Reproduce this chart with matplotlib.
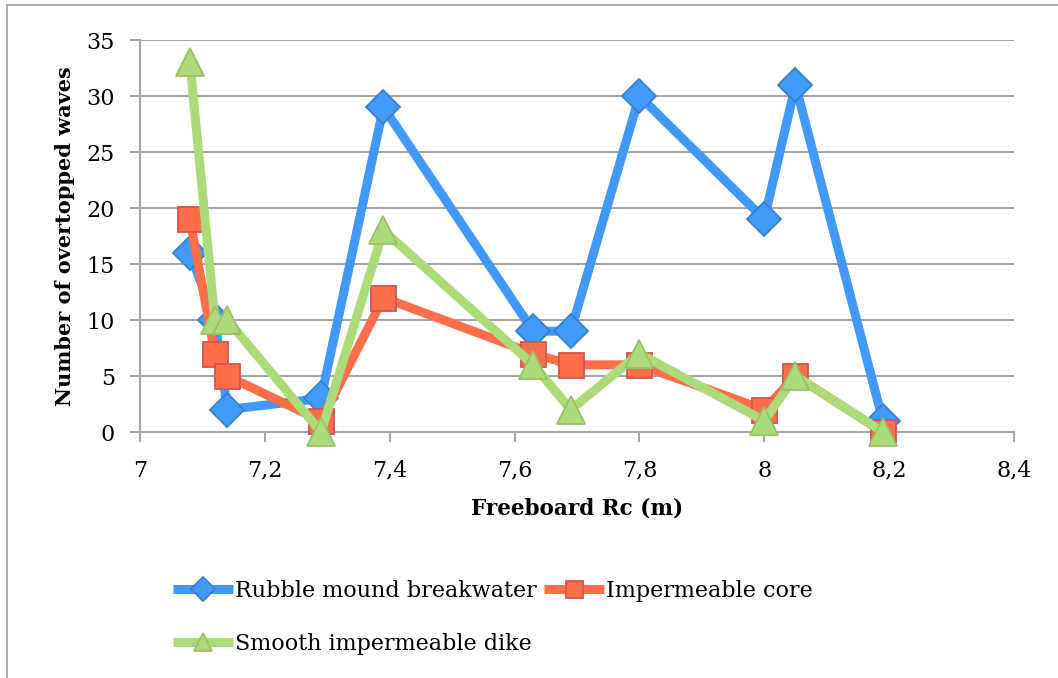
import matplotlib
matplotlib.use("Agg")
import matplotlib.pyplot as plt
from matplotlib.patches import Rectangle
from matplotlib.ticker import FuncFormatter, MultipleLocator

# Freeboard values (m) shared by all three structures
freeboard = [7.08, 7.12, 7.14, 7.29, 7.39, 7.63, 7.69, 7.80, 8.00, 8.05, 8.19]

# Number of overtopped waves per structure type
rubble_mound = [16, 10, 2, 3, 29, 9, 9, 30, 19, 31, 1]
impermeable_core = [19, 7, 5, 1, 12, 7, 6, 6, 2, 5, 0]
smooth_dike = [33, 10, 10, 0, 18, 6, 2, 7, 1, 5, 0]

series_labels = ["Rubble mound breakwater", "Impermeable core", "Smooth impermeable dike"]

plt.rcParams["font.family"] = ["DejaVu Serif"]

fig = plt.figure(figsize=(10.58, 6.78), dpi=100)
ax = fig.add_axes([0.1323, 0.3628, 0.8261, 0.5782])

# thin grey frame around the chart area
fig.patches.append(Rectangle((7 / 1058, -0.01), 1.02, 1 - 5 / 678 + 0.01,
                             transform=fig.transFigure, fill=False,
                             edgecolor="#A6A6A6", linewidth=1.3))

styles = [
    dict(color="#4199F9", marker="D", mfc="#4199F9", mec="#3A7FCC", ms=17.5),
    dict(color="#FD6E4B", marker="s", mfc="#FD6E4B", mec="#D9534A", ms=18),
    dict(color="#AEDB7A", marker="^", mfc="#AEDB7A", mec="#9CC066", ms=20),
]
lines = []
for vals, lab, st in zip([rubble_mound, impermeable_core, smooth_dike], series_labels, styles):
    ln, = ax.plot(freeboard, vals, color=st["color"], lw=6.5, marker=st["marker"],
                  markerfacecolor=st["mfc"], markeredgecolor=st["mec"], markeredgewidth=1.3,
                  markersize=st["ms"], label=lab, solid_joinstyle="miter",
                  solid_capstyle="butt", clip_on=False, zorder=3)
    lines.append(ln)

ax.set_xlim(7, 8.4)
ax.set_ylim(0, 35)
ax.xaxis.set_major_locator(MultipleLocator(0.2))
ax.yaxis.set_major_locator(MultipleLocator(5))
ax.xaxis.set_major_formatter(FuncFormatter(lambda v, p: f"{v:g}".replace(".", ",")))

ax.grid(axis="y", color="#A6A6A6", linewidth=1.5)
ax.set_axisbelow(True)
for side in ("top", "right"):
    ax.spines[side].set_visible(False)
for side in ("left", "bottom"):
    ax.spines[side].set_color("#A6A6A6")
    ax.spines[side].set_linewidth(1.5)
ax.tick_params(axis="both", colors="#A6A6A6", labelcolor="black", length=7, width=1.5,
               labelsize=16, direction="out")
ax.tick_params(axis="x", pad=13)
ax.tick_params(axis="y", pad=11)

ax.set_xlabel("Freeboard Rc (m)", fontsize=15.5, fontweight="bold", labelpad=11)
ax.set_ylabel("Number of overtopped waves", fontsize=15, fontweight="bold", labelpad=8)

# legend: two entries on the first row, the third below the first
order = [0, 2, 1]
fig.legend([lines[i] for i in order], [series_labels[i] for i in order],
           loc="upper left", bbox_to_anchor=(0.155, 0.158), bbox_transform=fig.transFigure,
           ncol=2, frameon=False, fontsize=16, handlelength=2.7, handletextpad=0.1,
           columnspacing=0.3, labelspacing=1.4, markerscale=0.68, borderaxespad=0)

fig.savefig("out.png", dpi=100)
